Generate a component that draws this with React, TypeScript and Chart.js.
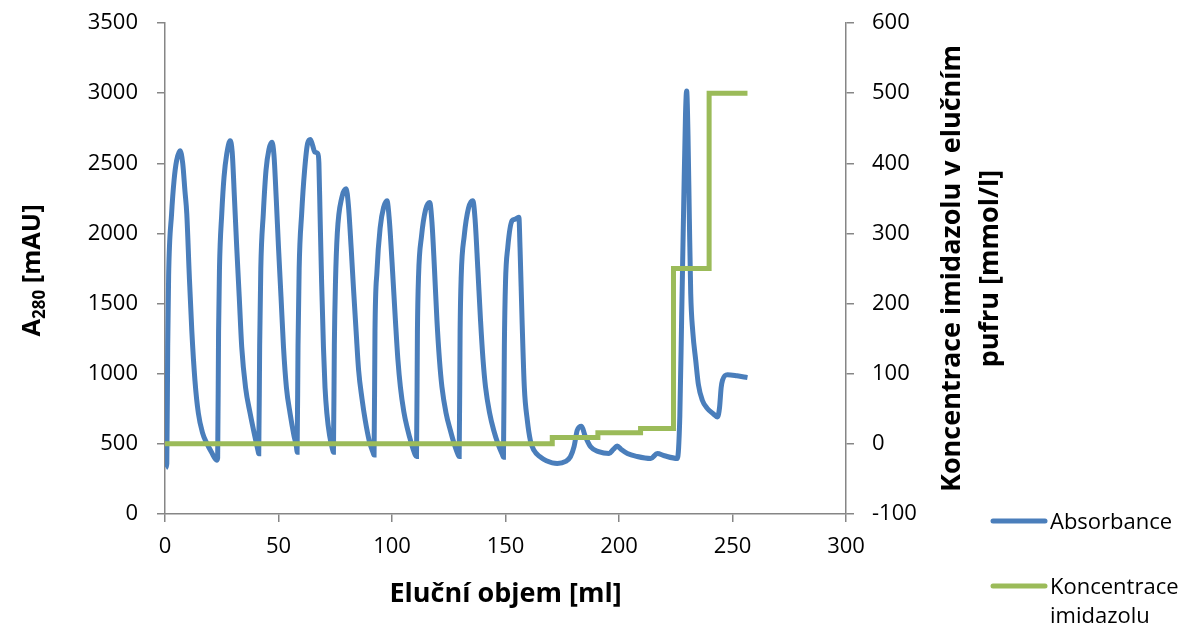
import React, { useEffect, useRef } from "react";
import { Chart, registerables } from "chart.js";

Chart.register(...registerables);

// ---- Data ----
const absVolume = [
  0.3, 0.8, 1.2, 1.6, 2.9, 4, 5.1, 6.6, 7.8, 8.8, 9.6, 10.7, 11.8, 13.2, 14.7, 16.5, 18.4, 20.5, 22.8, 23.2,
  23.6, 24, 25, 26, 27.2, 28.7, 29.6, 30.6, 31.6, 32.7, 33.8, 35.5, 37.5, 39.5, 41.0, 41.3,
  41.7, 42.2, 43.3, 44.5, 45.8, 47.1, 48, 49, 50, 51.1, 52.2, 53.5, 55.1, 56.8, 57.9, 58.2,
  58.6, 59.1, 60.2, 61.5, 62.8, 64, 65, 66, 67.3, 67.8, 68.3, 69, 69.8, 70.5, 71.3, 72.5, 73.8, 74.2,
  74.6, 75.1, 75.9, 77.9, 79.8, 80.8, 82, 83, 84.2, 85.3, 86.8, 88.2, 90, 91.6, 92.1,
  92.5, 93.4, 94.8, 96.3, 97.8, 98.8, 100, 101.5, 102.6, 103.7, 105.2, 106.6, 108.6, 110.3, 110.8,
  111.2, 111.7, 113, 114.8, 116.6, 117.6, 118.7, 119.8, 120.9, 122, 123.8, 125.7, 127.6, 129.2, 129.6,
  130, 130.5, 131.8, 133.7, 135.6, 136.6, 137.8, 139, 140.1, 141.2, 143, 144.8, 146.9, 148.7, 149.1,
  149.5, 150, 151, 152.9, 154, 155.2, 155.9, 156.4, 157.3, 158.3, 159.6, 161, 162.5,
  165, 168, 172.8, 176.5, 178.6, 180.2, 181.6, 183.5, 185, 187.5, 191, 195.6, 197.5, 199.2, 201, 203.7,
  208, 214, 216.9, 220, 225.7, 226.8, 227.6, 228.5, 229.3, 229.8, 230.4, 231, 231.6, 232.5, 233.8,
  235, 236.7, 239, 241.5, 243.4, 244.3, 245, 245.6, 247.8, 252, 256.6,
];
const absValue = [
  330, 360, 1200, 1700, 2140, 2380, 2518, 2590, 2500, 2300, 2140, 1700, 1309, 950, 718, 580, 505, 440, 384, 400,
  1300, 1750, 2140, 2400, 2567, 2660, 2580, 2250, 1901, 1550, 1190, 900, 718, 560, 450, 430,
  1200, 1750, 2140, 2450, 2600, 2650, 2560, 2250, 1901, 1550, 1190, 900, 718, 560, 480, 440,
  1200, 1750, 2140, 2450, 2640, 2670, 2630, 2580, 2570, 2500, 2140, 1650, 1190, 900, 718, 560, 460, 440,
  1200, 1650, 2000, 2257, 2318, 2200, 1900, 1617, 1300, 1024, 820, 669, 520, 440, 420,
  1300, 1735, 2043, 2185, 2233, 2100, 1800, 1380, 1100, 905, 730, 621, 500, 420, 410,
  1300, 1700, 1980, 2170, 2221, 2080, 1750, 1380, 1100, 905, 720, 597, 490, 420, 410,
  1300, 1700, 1980, 2180, 2233, 2100, 1750, 1380, 1100, 905, 720, 597, 490, 420, 405,
  1200, 1650, 1900, 2091, 2100, 2110, 2115, 1900, 1380, 900, 669, 520, 455,
  410, 380, 360, 375, 408, 480, 597, 626, 560, 479, 445, 431, 460, 484, 460, 431,
  410, 396, 431, 415, 396, 700, 1400, 2200, 2850, 3016, 2700, 2100, 1570, 1300, 1095,
  920, 811, 750, 715, 692, 760, 900, 953, 993, 985, 972,
];

const concVolume = [0, 170.6, 170.6, 190.7, 190.7, 209.5, 209.5, 224, 224, 239.7, 239.7, 256.6];
const concValue = [0, 0, 9, 9, 16, 16, 22, 22, 250, 250, 500, 500];

const xTitle = "Eluční objem [ml]";
const yTitleMain = "A";
const yTitleSub = "280";
const yTitleRest = " [mAU]";
const y1TitleLines = ["Koncentrace imidazolu v elučním", "pufru [mmol/l]"];
const legendLabels = [["Absorbance"], ["Koncentrace", "imidazolu"]];

const BLUE = "#4a7ebb";
const GREEN = "#9bbb59";
const AXIS = "#868686";
const FONT = '"Open Sans", "DejaVu Sans", sans-serif';
const TICK_SIZE = 22;
const TITLE_SIZE = 27;
const LEFT_TITLE_SIZE = 25.5;

const overlayPlugin = {
  id: "overlay",
  afterDraw(chart: any) {
    const ctx = chart.ctx as CanvasRenderingContext2D;
    const area = chart.chartArea;
    const midY = (area.top + area.bottom) / 2;
    ctx.save();
    ctx.fillStyle = "#000";
    ctx.textBaseline = "alphabetic";

    // x title
    ctx.font = `bold ${TITLE_SIZE}px ${FONT}`;
    ctx.textAlign = "center";
    ctx.fillText(xTitle, (area.left + area.right) / 2, 602);

    // left title with subscript
    const mainFont = `bold ${LEFT_TITLE_SIZE}px ${FONT}`;
    const subFont = `bold ${Math.round(LEFT_TITLE_SIZE * 0.68)}px ${FONT}`;
    ctx.font = mainFont;
    const wA = ctx.measureText(yTitleMain).width;
    const wR = ctx.measureText(yTitleRest).width;
    ctx.font = subFont;
    const wS = ctx.measureText(yTitleSub).width;
    const total = wA + wS + wR;
    ctx.save();
    ctx.translate(40, midY + 2);
    ctx.rotate(-Math.PI / 2);
    ctx.textAlign = "left";
    let sx = -total / 2;
    ctx.font = mainFont;
    ctx.fillText(yTitleMain, sx, 0);
    sx += wA;
    ctx.font = subFont;
    ctx.fillText(yTitleSub, sx, 5);
    sx += wS;
    ctx.font = mainFont;
    ctx.fillText(yTitleRest, sx, 0);
    ctx.restore();

    // right title, two lines
    ctx.save();
    ctx.font = `bold ${TITLE_SIZE}px ${FONT}`;
    ctx.textAlign = "center";
    const baselines = [960, 998];
    y1TitleLines.forEach((line, i) => {
      ctx.save();
      ctx.translate(baselines[i], midY);
      ctx.rotate(-Math.PI / 2);
      ctx.fillText(line, 0, 0);
      ctx.restore();
    });
    ctx.restore();

    // legend
    const colors = [BLUE, GREEN];
    const lineYs = [521, 586];
    ctx.font = `${TICK_SIZE}px ${FONT}`;
    ctx.textAlign = "left";
    legendLabels.forEach((lines, i) => {
      ctx.beginPath();
      ctx.strokeStyle = colors[i];
      ctx.lineWidth = 5;
      ctx.lineCap = "round";
      ctx.moveTo(993, lineYs[i]);
      ctx.lineTo(1045, lineYs[i]);
      ctx.stroke();
      lines.forEach((t, j) => {
        ctx.fillText(t, 1050, lineYs[i] + 8 + j * 29);
      });
    });
    ctx.restore();
  },
};

export default function App() {
  const ref = useRef<HTMLCanvasElement | null>(null);

  useEffect(() => {
    document.body.style.margin = "0";
    const canvas = ref.current;
    if (!canvas) return;
    const absData = absVolume.map((x, i) => ({ x, y: absValue[i] }));
    const concData = concVolume.map((x, i) => ({ x, y: concValue[i] }));

    const tickFont = { family: FONT, size: TICK_SIZE };
    const plain = (v: any) => String(v);
    const grid = {
      drawOnChartArea: false,
      drawTicks: true,
      tickLength: 8,
      color: AXIS,
      lineWidth: 1.5,
    };
    const border = { color: AXIS, width: 1.5 };
    const fitVertical = (w: number) => (s: any) => {
      s.width = w;
      s.paddingTop = 0;
      s.paddingBottom = 0;
    };

    const chart = new Chart(canvas, {
      type: "line",
      data: {
        datasets: [
          {
            label: "Absorbance",
            data: absData,
            borderColor: BLUE,
            backgroundColor: BLUE,
            borderWidth: 5,
            pointRadius: 0,
            cubicInterpolationMode: "monotone",
            yAxisID: "y",
            order: 1,
          },
          {
            label: "Koncentrace imidazolu",
            data: concData,
            borderColor: GREEN,
            backgroundColor: GREEN,
            borderWidth: 5,
            pointRadius: 0,
            tension: 0,
            yAxisID: "y1",
            order: 0,
          },
        ],
      },
      options: {
        responsive: false,
        animation: false,
        layout: { padding: { top: 23, left: 0, right: 0, bottom: 0 } },
        plugins: { legend: { display: false }, tooltip: { enabled: false } },
        scales: {
          x: {
            type: "linear",
            position: "bottom",
            min: 0,
            max: 300,
            ticks: { stepSize: 50, font: tickFont, color: "#000", padding: 12, maxRotation: 0, callback: plain },
            grid,
            border,
            afterFit: (s: any) => {
              s.height = 114;
              s.paddingLeft = 0;
              s.paddingRight = 0;
            },
          },
          y: {
            type: "linear",
            position: "left",
            min: 0,
            max: 3500,
            ticks: { stepSize: 500, font: tickFont, color: "#000", padding: 19, callback: plain },
            grid,
            border,
            afterFit: fitVertical(165),
          },
          y1: {
            type: "linear",
            position: "right",
            min: -100,
            max: 600,
            ticks: { stepSize: 100, font: tickFont, color: "#000", padding: 18, callback: plain },
            grid,
            border,
            afterFit: fitVertical(344),
          },
        },
      },
      plugins: [overlayPlugin],
    });
    return () => chart.destroy();
  }, []);

  return (
    <div style={{ width: 1190, height: 628, position: "relative", background: "#fff" }}>
      <canvas ref={ref} width={1190} height={628} style={{ display: "block" }} />
    </div>
  );
}
